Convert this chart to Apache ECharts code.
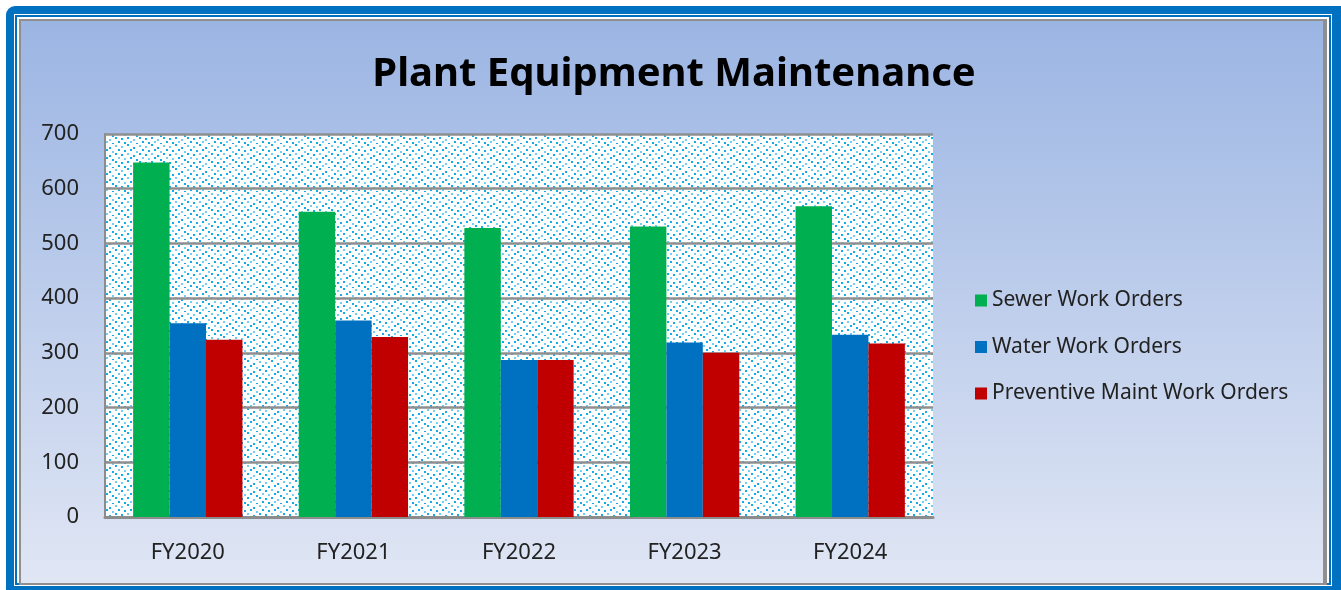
<!DOCTYPE html>
<html>
<head>
<meta charset="utf-8">
<script src="https://cdn.jsdelivr.net/npm/echarts@6/dist/echarts.min.js"></script>
<style>
html, body { margin: 0; padding: 0; background: #fff; }
#chart { width: 1341px; height: 590px; }
</style>
</head>
<body>
<div id="chart"></div>
<script>
// 数据
var years = ['FY2020', 'FY2021', 'FY2022', 'FY2023', 'FY2024']
var sewerOrders = [648, 558, 528, 531, 568]
var waterOrders = [354, 359, 287, 319, 333]
var preventiveOrders = [324, 329, 287, 300, 317]
var yTicks = [0, 100, 200, 300, 400, 500, 600, 700]

var font = '"Noto Sans", "Open Sans", sans-serif'

// dotted fill for the plot area
function dotPattern() {
    var c = document.createElement('canvas')
    c.width = 24
    c.height = 24
    var ctx = c.getContext('2d')
    ctx.fillStyle = '#ffffff'
    ctx.fillRect(0, 0, 24, 24)
    var dots = [[1, 2], [7, 0], [13, 3], [19, 1], [4, 6], [10, 5], [16, 7], [22, 5],
        [1, 10], [7, 9], [13, 11], [19, 9], [4, 14], [10, 13], [16, 15], [22, 13],
        [1, 18], [7, 17], [13, 19], [19, 17], [4, 22], [10, 21], [16, 23], [22, 21]]
    dots.forEach(function (d, i) {
        ctx.fillStyle = i % 3 === 0 ? '#6fd0f3' : '#12acea'
        ctx.fillRect(d[0], d[1], 2, 2)
    })
    return c
}

var chart = echarts.init(document.getElementById('chart'))
chart.setOption({
    backgroundColor: '#ffffff',
    animation: false,
    graphic: [
        { type: 'rect', z: -10, silent: true, shape: { x: 6, y: 6, width: 1350, height: 600, r: 9 }, style: { fill: '#0070c0' } },
        { type: 'rect', z: -9, silent: true, shape: { x: 14, y: 14, width: 1318, height: 572 }, style: { fill: '#ffffff' } },
        { type: 'rect', z: -8, silent: true, shape: { x: 16, y: 16, width: 1314, height: 568 }, style: { fill: 'none', stroke: '#0070c0', lineWidth: 2 } },
        { type: 'rect', z: -7, silent: true, shape: { x: 19, y: 19, width: 1308, height: 566 }, style: { fill: '#8f8f8f' } },
        {
            type: 'rect', z: -6, silent: true,
            shape: { x: 21, y: 21, width: 1302, height: 562 },
            style: {
                fill: new echarts.graphic.LinearGradient(0, 0, 0, 1, [
                    { offset: 0, color: '#9bb5e3' },
                    { offset: 1, color: '#e0e6f4' }
                ])
            }
        }
    ],
    title: {
        text: 'Plant Equipment Maintenance',
        left: 669,
        textAlign: 'center',
        top: 50,
        textStyle: { fontFamily: font, fontSize: 40, fontWeight: 'bold', color: '#000' }
    },
    legend: {
        orient: 'vertical',
        left: 970,
        top: 285,
        itemWidth: 12,
        itemHeight: 12,
        itemGap: 25.5,
        icon: 'rect',
        textStyle: { fontFamily: font, fontSize: 21, color: '#222' },
        data: ['Sewer Work Orders', 'Water Work Orders', 'Preventive Maint Work Orders']
    },
    grid: {
        left: 105,
        right: 408,
        top: 134,
        bottom: 73,
        show: true,
        borderWidth: 0,
        backgroundColor: { image: dotPattern(), repeat: 'repeat' }
    },
    xAxis: {
        type: 'category',
        data: years,
        axisTick: { show: false },
        axisLine: { lineStyle: { color: '#8c8c8c', width: 3 } },
        axisLabel: { margin: 25, fontFamily: font, fontSize: 22, color: '#222' }
    },
    yAxis: {
        type: 'value',
        min: yTicks[0],
        max: yTicks[yTicks.length - 1],
        interval: 100,
        axisLine: { show: true, lineStyle: { color: '#8c8c8c', width: 2 } },
        axisTick: { show: false },
        axisLabel: { margin: 26, fontFamily: font, fontSize: 22, color: '#222' },
        splitLine: { lineStyle: { color: '#8f8f8f', width: 2.5 } }
    },
    series: [
        { name: 'Sewer Work Orders', type: 'bar', data: sewerOrders, barGap: '0%', barCategoryGap: '34%', itemStyle: { color: '#00b050' } },
        { name: 'Water Work Orders', type: 'bar', data: waterOrders, itemStyle: { color: '#0070c0' } },
        { name: 'Preventive Maint Work Orders', type: 'bar', data: preventiveOrders, itemStyle: { color: '#c00000' } }
    ]
})
</script>
</body>
</html>
